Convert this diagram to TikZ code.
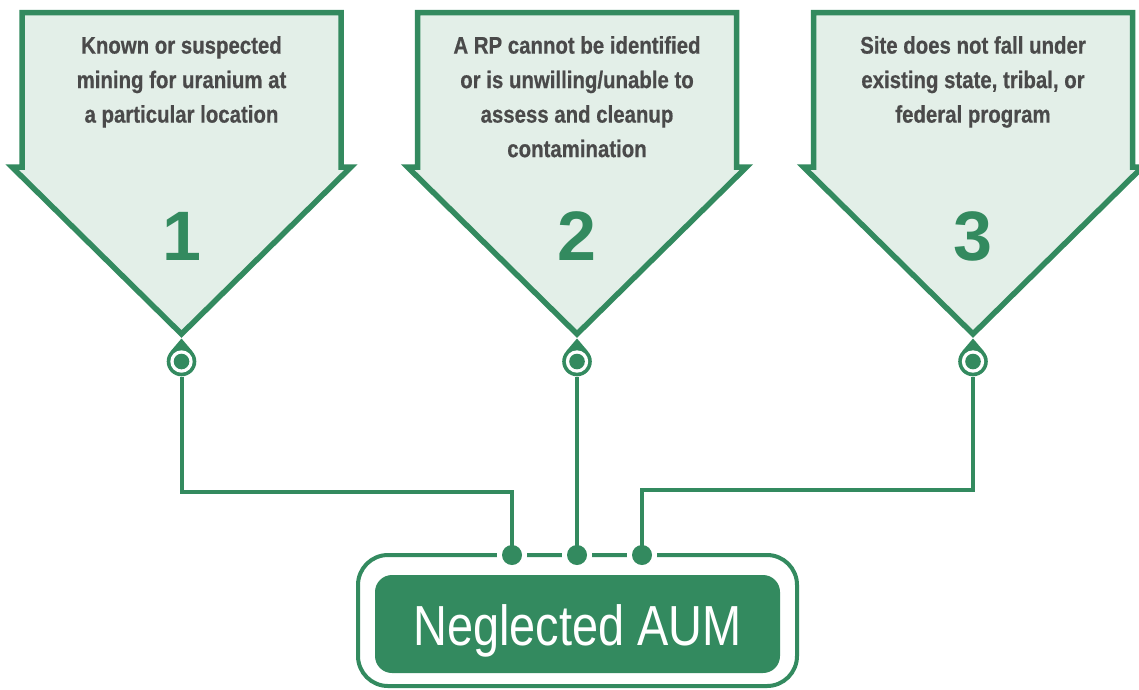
\documentclass[tikz,border=0pt]{standalone}
\usepackage{fontspec}
\setmainfont{Liberation Sans}
\newfontfamily\captionsans[FakeStretch=0.85, FakeBold=0.6]{Liberation Sans}
\newfontfamily\titlesans[FakeStretch=0.83]{Liberation Sans}
\usetikzlibrary{calc}
\definecolor{aumgreen}{HTML}{338A5F}
\definecolor{aumpale}{HTML}{E3EFE8}
\definecolor{aumtext}{HTML}{4A4A4A}
\tikzset{
  arrowshape/.style={draw=aumgreen, fill=aumpale, line width=5.5pt, line join=miter, miter limit=10},
  caption/.style={font=\captionsans\bfseries\fontsize{24}{34.5}\selectfont, text=aumtext,
                  align=center, anchor=north, inner sep=0pt},
  stepnum/.style={font=\bfseries\fontsize{70}{70}\selectfont, text=aumgreen, inner sep=0pt, anchor=base},
  dropnode/.style={circle, inner sep=0pt, minimum size=30pt},
  wire/.style={draw=aumgreen, line width=4pt},
  pinnode/.style={circle, fill=aumgreen, inner sep=0pt, minimum size=20pt},
}
\begin{document}
\begin{tikzpicture}[x=1pt, y=-1pt]
\useasboundingbox (0,0) rectangle (1139,689);

% three downward arrow panels with a drop-shaped pin under each tip
\foreach \c/\i in {181.5/1, 577/2, 973/3}{
  \draw[arrowshape] ({\c-159.5},12.5) -- ({\c+159.5},12.5) -- ({\c+159.5},167)
      -- ({\c+169.5},167) -- (\c,334) -- ({\c-169.5},167) -- ({\c-159.5},167) -- cycle;
  \fill[aumgreen] (\c,338.5) -- ({\c+10.8},351.2) -- (\c,361.5) -- ({\c-10.8},351.2) -- cycle;
  \fill[aumgreen] (\c,361.5) circle (14.8pt);
  \fill[white] (\c,361.5) circle (11.2pt);
  \fill[aumgreen] (\c,361.5) circle (7.8pt);
  \node[dropnode] (d\i) at (\c,361.5) {};
  \node[stepnum] (n\i) at (\c,260) {\i};
}

\node[caption] (t1) at (181.5,36) {Known or suspected\\mining for uranium at\\a particular location};
\node[caption] (t2) at (577,36) {A RP cannot be identified\\or is unwilling/unable to\\assess and cleanup\\contamination};
\node[caption] (t3) at (973,36) {Site does not fall under\\existing state, tribal, or\\federal program};

% result box
\draw[aumgreen, line width=4pt, rounded corners=30pt] (358,555) rectangle (797,686);
\foreach \x in {512, 577, 642}{ \fill[white] (\x,555) circle (15pt); }
\node[pinnode] (p1) at (512,555) {};
\node[pinnode] (p2) at (577,555) {};
\node[pinnode] (p3) at (642,555) {};

\node[fill=aumgreen, rounded corners=17pt, minimum width=405pt, minimum height=98pt, inner sep=0pt]
  (box) at (577.5,624) {};
\node[font=\titlesans\fontsize{56.5}{60}\selectfont, text=white, anchor=base, inner sep=0pt]
  (title) at (577.5,645.7) {Neglected AUM};

% connectors
\draw[wire] (d1.south) |- (p1 |- 0,492) -- (p1.center);
\draw[wire] (d2.south) -- (p2.center);
\draw[wire] (d3.south) |- (p3 |- 0,490) -- (p3.center);
\end{tikzpicture}
\end{document}
